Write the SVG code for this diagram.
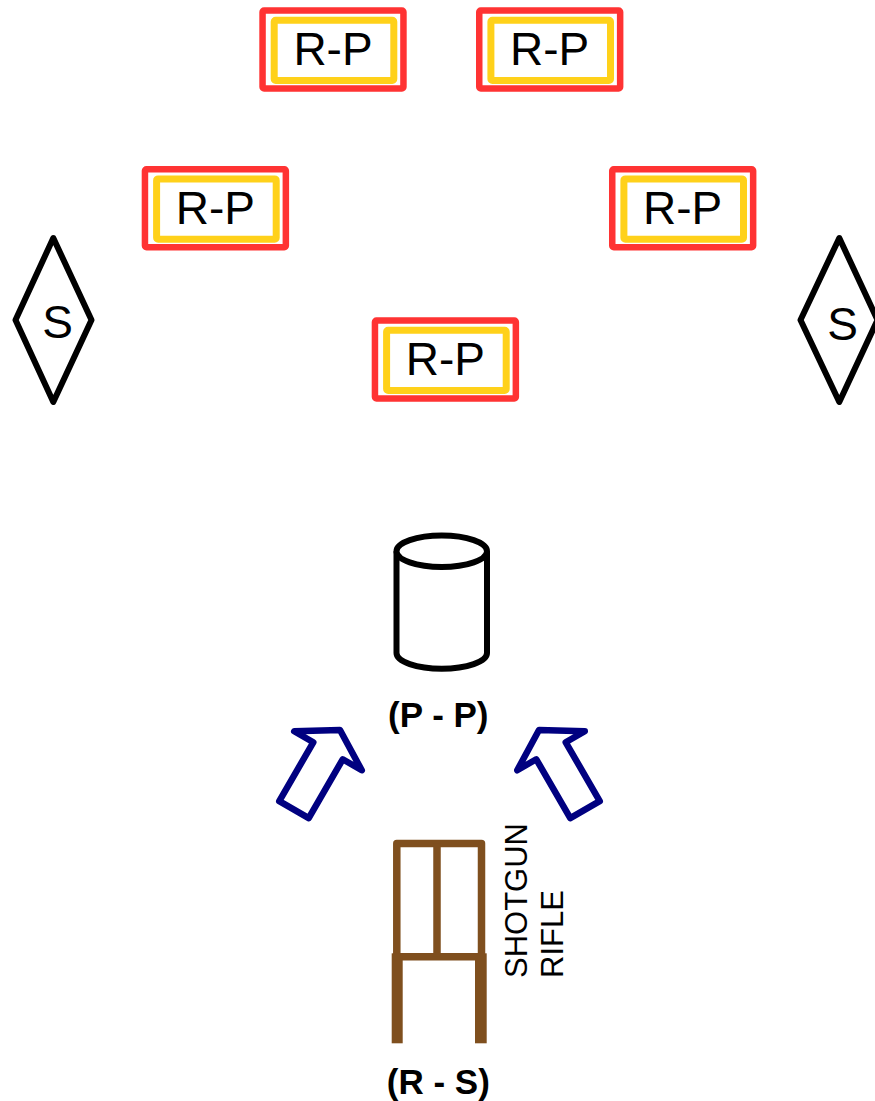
<svg xmlns="http://www.w3.org/2000/svg" width="875" height="1101" viewBox="0 0 875 1101">
<style>
.red{fill:none;stroke:#FF3333;stroke-width:6.5;stroke-linejoin:round}
.yel{fill:#ffffff;stroke:#FFD11A;stroke-width:7;stroke-linejoin:round}
.rp{font-family:"Liberation Sans",Arial,sans-serif;font-size:46px;fill:#000;text-anchor:middle}
.dia{fill:#fff;stroke:#000;stroke-width:6;stroke-linejoin:round}
.lbl{font-family:"Liberation Sans",Arial,sans-serif;font-size:35px;font-weight:bold;fill:#000;text-anchor:middle}
.side{font-family:"Liberation Sans",Arial,sans-serif;font-size:31px;fill:#000}
.arr{fill:#fff;stroke:#000080;stroke-width:6.5;stroke-linejoin:round}
.brn{fill:none;stroke:#7F4F1E;stroke-width:7.5;stroke-linejoin:round}
</style>
<defs>
<g id="rpbox">
<rect class="red" x="3.25" y="3.25" width="140.9" height="77.9" rx="1.5"/>
<rect class="yel" x="14.9" y="12.9" width="119.6" height="60.3" rx="1.5"/>
<text class="rp" x="73.7" y="57.7">R-P</text>
</g>
<polygon id="arrowshape" class="arr" points="0,0 39,24 17,24 17,92 -17,92 -17,24 -39,24"/>
</defs>
<g id="rp1" transform="translate(259.3,7.3)"><use href="#rpbox"/></g>
<g id="rp2" transform="translate(476,7.3)"><use href="#rpbox"/></g>
<g id="rp3" transform="translate(141.7,166)"><use href="#rpbox"/></g>
<g id="rp4" transform="translate(609,166)"><use href="#rpbox"/></g>
<g id="rp5" transform="translate(371.7,317.3)"><use href="#rpbox"/></g>
<g id="s-left">
<polygon class="dia" points="53.3,238 91.5,320 53.3,402 15.5,320"/>
<text class="rp" x="57.5" y="338">S</text>
</g>
<g id="s-right">
<polygon class="dia" points="839.3,238 877.5,320 839.3,402 800.5,320"/>
<text class="rp" x="842.5" y="340">S</text>
</g>
<g id="target">
<path d="M396.5,551.3 L396.5,653 A45.25,15.7 0 0 0 487,653 L487,551.3" fill="#fff" stroke="#000" stroke-width="6"/>
<ellipse cx="441.75" cy="551.3" rx="45.25" ry="15.7" fill="#fff" stroke="#000" stroke-width="6"/>
<text class="lbl" x="438.3" y="727">(P - P)</text>
</g>
<g id="connectors">
<use href="#arrowshape" transform="translate(340,730) rotate(30)"/>
<use href="#arrowshape" transform="translate(539,730) rotate(-30)"/>
</g>
<g id="rack">
<path class="brn" d="M396.8,956.7 L396.8,843.5 L481.5,843.5 L481.5,956.7 Z"/>
<line class="brn" x1="437" y1="843.5" x2="437" y2="956.7"/>
<rect x="391.7" y="953.3" width="11" height="90" fill="#7F4F1E"/>
<rect x="475" y="953.3" width="11.7" height="90" fill="#7F4F1E"/>
<text class="side" transform="translate(526.7,978) rotate(-90)">SHOTGUN</text>
<text class="side" transform="translate(563.3,978) rotate(-90)">RIFLE</text>
<text class="lbl" x="438.3" y="1094">(R - S)</text>
</g>
</svg>
